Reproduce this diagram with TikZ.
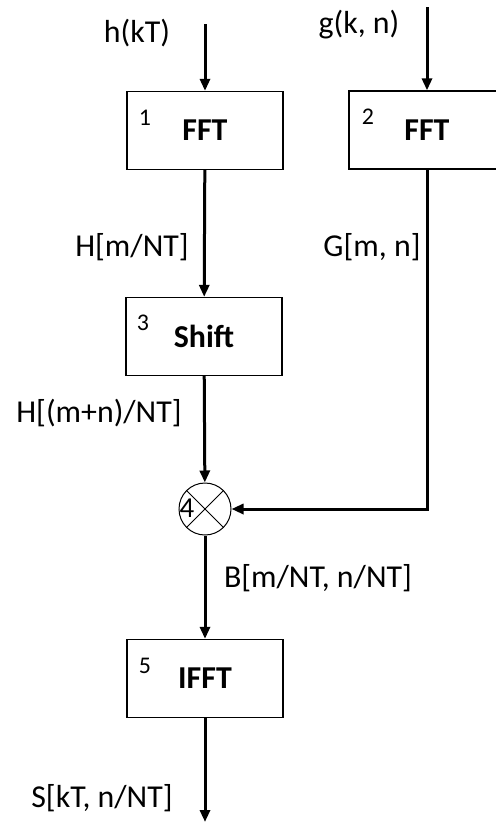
\documentclass[tikz,border=0pt]{standalone}
\usepackage{fontspec}
\setmainfont{Carlito}
\usetikzlibrary{positioning,arrows.meta}
\begin{document}
\begin{tikzpicture}[
  x=1bp, y=-1bp,
  every node/.style={font=\fontsize{32}{36}\selectfont, inner sep=0pt},
  blk/.style={draw, line width=1.3bp, minimum width=156bp, minimum height=78bp, font=\fontsize{32}{36}\selectfont\bfseries},
  num/.style={font=\fontsize{24}{28}\selectfont},
  mul/.style={draw, circle, line width=1bp, minimum size=52bp},
  sig/.style={line width=3bp, -{Triangle[length=12bp,width=10bp]}},
]
\useasboundingbox (0,0) rectangle (496,823);

\node[blk] (fft1) at (205,130.5) {FFT};
\node[blk] (fft2) at (427,130) {FFT};
\node[blk] (shift) at (204,336.5) {Shift};
\node[mul] (mult) at (205,509) {};
\node[blk] (ifft) at (205,678.5) {IFFT};

\node[num] (k1) at (145,118) {1};
\node[num] (k2) at (368,117) {2};
\node[num] (k3) at (143,323) {3};
\node[num, font=\fontsize{29}{32}\selectfont] (k4) at (187,508) {4};
\node[num] (k5) at (145,666) {5};

\coordinate (hin) at (205,24);
\coordinate (gin) at (427,7);
\coordinate (gcorner) at (427,509);
\coordinate (sout) at (205,822);

\node (h) at (137,33) {h(kT)};
\node (g) at (359,25) {g(k, n)};
\node (H) at (132,247) {H[m/NT]};
\node (G) at (372,247) {G[m, n]};
\node (Hs) at (99,413) {H[(m+n)/NT]};
\node (B) at (318,578) {B[m/NT, n/NT]};
\node (S) at (102,798) {S[kT, n/NT]};

\draw[line width=1bp] (mult.north west) -- (mult.south east) (mult.north east) -- (mult.south west);

\draw[sig] (hin) -- (fft1); \draw[sig] (gin) -- (fft2);
\draw[sig] (fft1) -- (shift);
\draw[sig] (shift) -- (mult);
\draw[sig] (fft2.south) -- (gcorner) -- (mult.east);
\draw[sig] (mult) -- (ifft);
\draw[sig] (ifft) -- (sout);
\end{tikzpicture}
\end{document}
